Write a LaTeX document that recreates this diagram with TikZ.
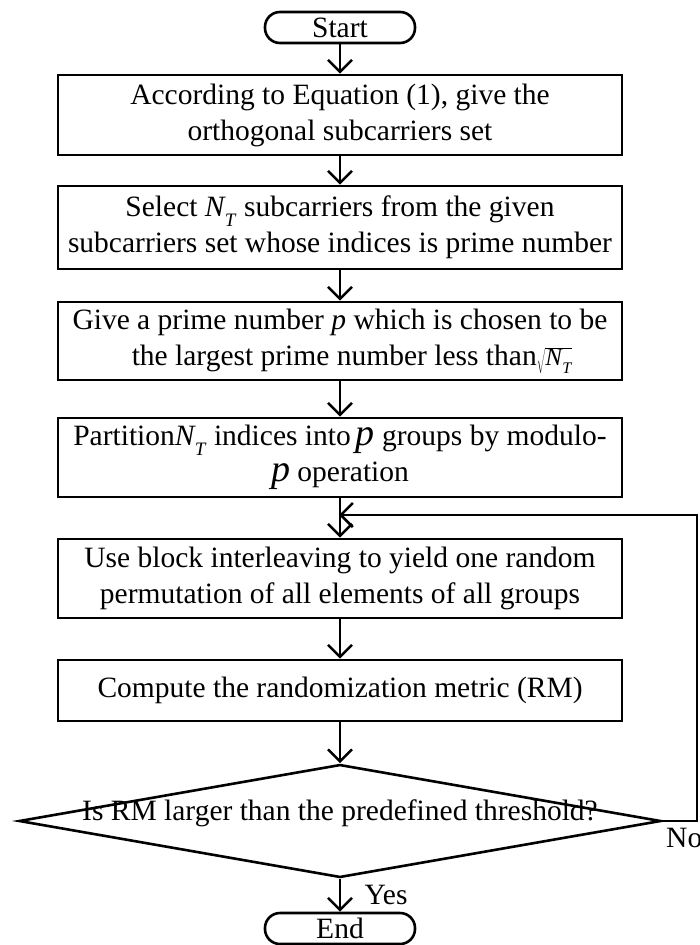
\documentclass[tikz,border=0pt]{standalone}
\usepackage{fontspec}
\usepackage{graphicx}
\setmainfont{Liberation Serif}
\usetikzlibrary{arrows.meta,shapes.geometric}

% N with subscript T, set in italic text
\newcommand{\NsubT}{\textit{N}\kern-1pt\raisebox{-0.32em}{\fontsize{19}{19}\selectfont\textit{T}}}
\newcommand{\bigp}{{\fontsize{38}{38}\selectfont\textit{p}}}

\begin{document}
\begin{tikzpicture}[x=1pt,y=-1pt,
  every node/.style={font=\fontsize{29.5}{36}\selectfont},
  stepbox/.style={draw, line width=2.6pt, minimum width=564pt, inner sep=0pt, align=center},
  termbox/.style={draw, line width=2.6pt, rounded corners=15pt, minimum width=150pt, minimum height=31pt, inner sep=0pt},
  flow/.style={line width=2.6pt, -{Straight Barb[length=12pt,width=24pt]}},
  plain/.style={line width=2.6pt}]
\useasboundingbox (0,0) rectangle (699,945);

\node[termbox] (start) at (340,27.5) {Start};
\node[stepbox, minimum height=80pt] (b1) at (340,115)
  {According to Equation (1), give the\\orthogonal subcarriers set};
\node[stepbox, minimum height=83pt] (b2) at (340,227.5)
  {Select \NsubT\ subcarriers from the given\\subcarriers set whose indices is prime number};
\node[stepbox, minimum height=78pt] (b3) at (340,341)
  {Give a prime number \textit{p} which is chosen to be\\\hspace*{24pt}the largest prime number less than\scalebox{0.85}{$\sqrt{\hbox{\NsubT}}$}};
\node[stepbox, minimum height=79pt] (b4) at (340,457.5)
  {Partition\NsubT\ indices into\,\bigp\ groups by modulo-\\\bigp\ operation};
\node[stepbox, minimum height=79pt] (b5) at (340,578.5)
  {Use block interleaving to yield one random\\permutation of all elements of all groups};
\node[stepbox, minimum height=61pt] (b6) at (340,690.5)
  {Compute the randomization metric (RM)};
\node[diamond, draw, line width=2.6pt, minimum width=642pt, minimum height=113pt, inner sep=0pt] (dec) at (340,821) {};
\node (dectext) at (340,813) {Is RM larger than the predefined threshold?};
\node[termbox] (end) at (340,928.5) {End};

\draw[flow] (start) -- (b1);
\draw[flow] (b1) -- (b2);
\draw[flow] (b2) -- (b3);
\draw[flow] (b3) -- (b4);
\draw[flow] (b4) -- (b5);
\draw[flow] (b5) -- (b6);
\draw[flow] (b6) -- (dec);
\draw[flow] (dec) -- node[right, xshift=20pt, yshift=0pt] (yes) {Yes} (end);

% feedback loop along the right edge
\coordinate (rc) at (697,821);
\coordinate (rt) at (697,515);
\coordinate (join) at (340,515);
\draw[plain] (dec.east) -- (rc) -- (rt) -- (join);
\draw[flow, shorten >=-1pt] (rt) -- (join);
\node[anchor=north west, inner sep=0pt] (no) at (666,828) {No};
\end{tikzpicture}
\end{document}
